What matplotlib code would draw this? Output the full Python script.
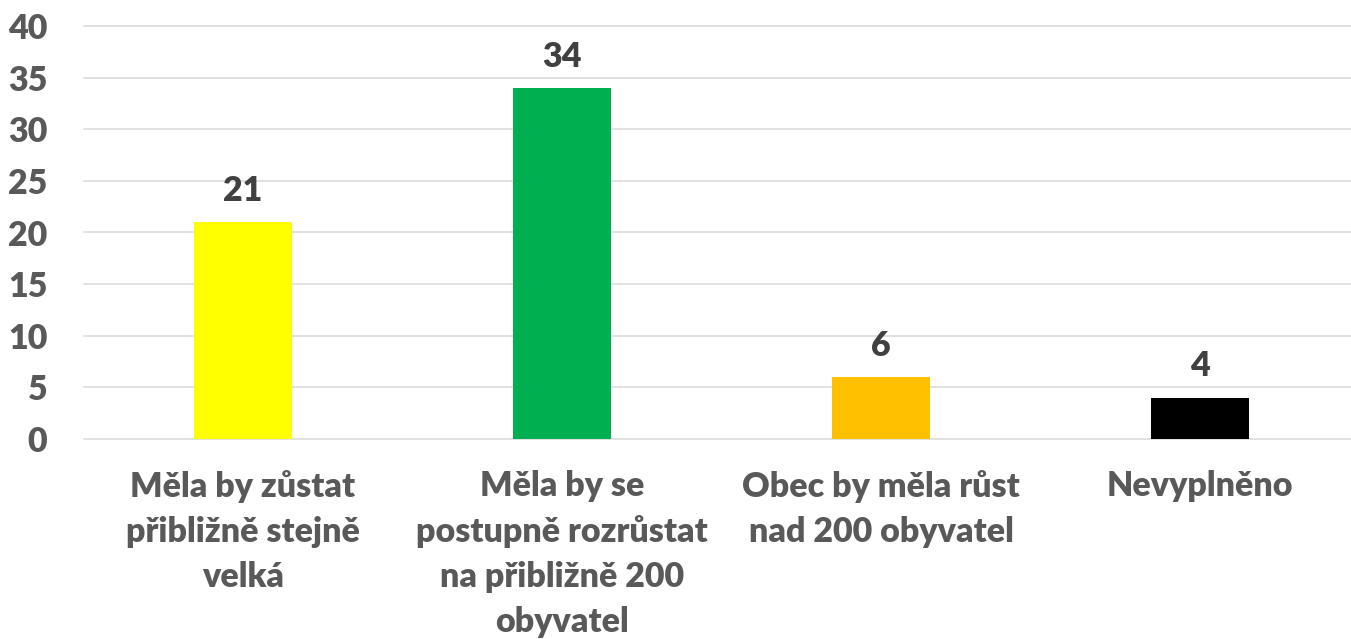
import matplotlib
matplotlib.use("Agg")
import matplotlib.pyplot as plt

# Data
categories = ["Měla by zůstat\npřibližně stejně\nvelká",
              "Měla by se\npostupně rozrůstat\nna přibližně 200\nobyvatel",
              "Obec by měla růst\nnad 200 obyvatel",
              "Nevyplněno"]
values = [21, 34, 6, 4]
bar_colors = ["#FFFF00", "#00B050", "#FFC000", "#000000"]
y_ticks = [0, 5, 10, 15, 20, 25, 30, 35, 40]

plt.rcParams['font.family'] = ['Lato', 'DejaVu Sans']

W, H = 1351, 639
FS = 24.5
fig = plt.figure(figsize=(W / 100, H / 100), dpi=100)
ax = fig.add_axes([83.5 / W, 1 - 439 / H, 1276 / W, (439 - 26) / H])

x = list(range(len(categories)))
bars = ax.bar(x, values, width=0.31, color=bar_colors, zorder=3)

for xi, v in zip(x, values):
    ax.annotate(str(v), (xi, v), xytext=(0, 11), textcoords="offset points",
                ha="center", va="bottom", fontsize=FS, fontweight="heavy",
                color="#404040")

ax.set_xlim(-0.5, 3.5)
ax.set_ylim(0, 40)
ax.set_yticks(y_ticks)
ax.set_xticks(x)
ax.set_xticklabels(categories, linespacing=1.5, va="top")
ax.tick_params(axis="y", length=0, pad=26, labelsize=FS, labelcolor="#595959")
ax.tick_params(axis="x", length=0, pad=22, labelsize=FS, labelcolor="#595959")
for lab in ax.get_xticklabels() + ax.get_yticklabels():
    lab.set_fontweight("heavy")

ax.grid(axis="y", color="#D9D9D9", linewidth=1.1, zorder=0)
for gl in ax.get_ygridlines():
    gl.set_clip_on(False)
for s in ax.spines.values():
    s.set_visible(False)

fig.savefig("out.png", dpi=100)
